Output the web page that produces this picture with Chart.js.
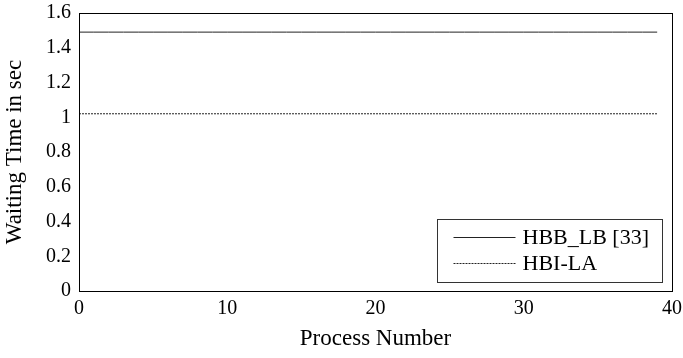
<!DOCTYPE html>
<html>
<head>
<meta charset="utf-8">
<script src="https://cdn.jsdelivr.net/npm/chart.js@4"></script>
<style>
html,body{margin:0;padding:0;background:#fff;}
#wrap{width:683px;height:358px;}
</style>
</head>
<body>
<div id="wrap"><canvas id="c" width="683" height="358"></canvas></div>
<script>
const processNumbers = [0,1,2,3,4,5,6,7,8,9,10,11,12,13,14,15,16,17,18,19,20,21,22,23,24,25,26,27,28,29,30,31,32,33,34,35,36,37,38,39];
const hbbLb = [1.49,1.49,1.49,1.49,1.49,1.49,1.49,1.49,1.49,1.49,1.49,1.49,1.49,1.49,1.49,1.49,1.49,1.49,1.49,1.49,1.49,1.49,1.49,1.49,1.49,1.49,1.49,1.49,1.49,1.49,1.49,1.49,1.49,1.49,1.49,1.49,1.49,1.49,1.49,1.49];
const hbiLa = [1.02,1.02,1.02,1.02,1.02,1.02,1.02,1.02,1.02,1.02,1.02,1.02,1.02,1.02,1.02,1.02,1.02,1.02,1.02,1.02,1.02,1.02,1.02,1.02,1.02,1.02,1.02,1.02,1.02,1.02,1.02,1.02,1.02,1.02,1.02,1.02,1.02,1.02,1.02,1.02];
const seriesLabels = ["HBB_LB [33]", "HBI-LA"];
const xTitle = "Process Number";
const yTitle = "Waiting Time in sec";

const FONT = "'Liberation Serif', 'Times New Roman', serif";

const frameLegend = {
  id: 'frameLegend',
  afterDraw(chart) {
    const ctx = chart.ctx;
    const a = chart.chartArea;
    ctx.save();
    ctx.strokeStyle = '#000';
    ctx.lineWidth = 1;
    ctx.strokeRect(Math.round(a.left) + 0.5, Math.round(a.top) + 0.5, Math.round(a.right - a.left), Math.round(a.bottom - a.top));
    // legend box
    const bx = Math.round(a.right - 235) + 0.5, by = Math.round(a.bottom - 72) + 0.5;
    const bw = 225, bh = 63;
    ctx.fillStyle = '#fff';
    ctx.fillRect(bx, by, bw, bh);
    ctx.strokeStyle = '#333';
    ctx.strokeRect(bx, by, bw, bh);
    ctx.font = "22px " + FONT;
    ctx.textBaseline = 'middle';
    ctx.fillStyle = '#000';
    chart.data.datasets.forEach((ds, i) => {
      const ly = Math.round(by + 17 + i * 26) + 0.5;
      ctx.beginPath();
      ctx.setLineDash(ds.borderDash || []);
      ctx.strokeStyle = ds.borderColor;
      ctx.lineWidth = 1;
      ctx.moveTo(bx + 16, ly);
      ctx.lineTo(bx + 78, ly);
      ctx.stroke();
      ctx.setLineDash([]);
      ctx.fillText(ds.label, bx + 85, ly + 1);
    });
    ctx.restore();
  }
};

new Chart(document.getElementById('c'), {
  type: 'line',
  data: {
    labels: processNumbers,
    datasets: [
      { label: seriesLabels[0], data: processNumbers.map((x, i) => ({x: x, y: hbbLb[i]})), borderColor: '#222', borderWidth: 1, pointRadius: 0, fill: false, tension: 0 },
      { label: seriesLabels[1], data: processNumbers.map((x, i) => ({x: x, y: hbiLa[i]})), borderColor: '#222', borderWidth: 1, borderDash: [2, 1], pointRadius: 0, fill: false, tension: 0 }
    ]
  },
  options: {
    responsive: false,
    animation: false,
    devicePixelRatio: 1,
    layout: { padding: { left: 0, right: 11, top: 13, bottom: 0 } },
    plugins: { legend: { display: false }, tooltip: { enabled: false } },
    scales: {
      x: {
        type: 'linear', min: 0, max: 40,
        ticks: { stepSize: 10, color: '#000', font: { family: FONT, size: 20 }, padding: 6, maxRotation: 0 },
        grid: { display: false, drawTicks: false },
        border: { display: true, color: '#000' },
        title: { display: true, text: xTitle, color: '#000', font: { family: FONT, size: 23 }, padding: { top: 0, bottom: 5 } },
        afterFit(scale) { scale.height = 67; scale.paddingLeft = 0; scale.paddingRight = 0; }
      },
      y: {
        min: 0, max: 1.6,
        ticks: { stepSize: 0.2, color: '#000', font: { family: FONT, size: 20 }, padding: 8, callback: v => String(parseFloat(v.toFixed(1))) },
        grid: { display: false, drawTicks: false },
        border: { display: true, color: '#000' },
        title: { display: true, text: yTitle, color: '#000', font: { family: FONT, size: 23 }, padding: { top: 1, bottom: 0 } },
        afterFit(scale) { scale.width = 79; scale.paddingTop = 0; scale.paddingBottom = 0; }
      }
    }
  },
  plugins: [frameLegend]
});
</script>
</body>
</html>
